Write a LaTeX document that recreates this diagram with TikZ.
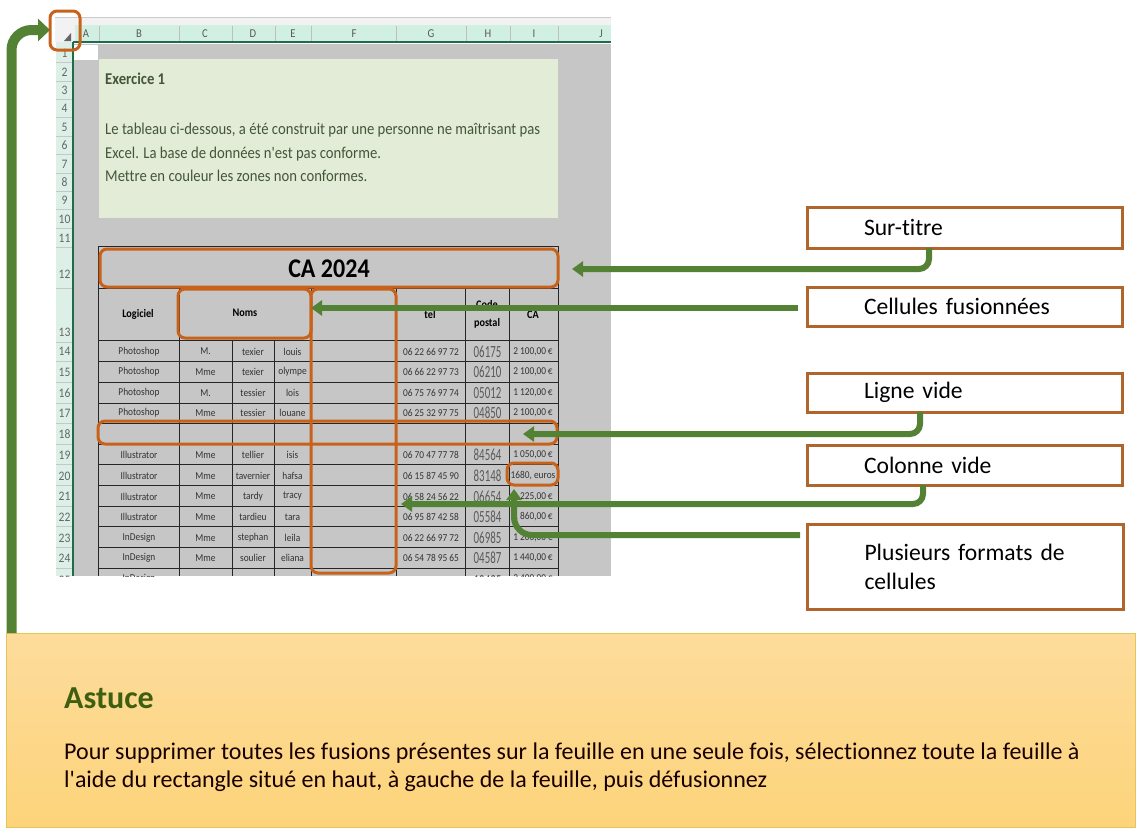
\documentclass[tikz,border=0pt]{standalone}
\usepackage{fontspec}
\newfontfamily\carl[Ligatures=NoCommon]{Carlito}
\newfontfamily\carlnarrow[Ligatures=NoCommon,FakeStretch=0.89]{Carlito}
\newfontfamily\carlzip[Ligatures=NoCommon,FakeStretch=0.64]{Carlito}
\usetikzlibrary{arrows.meta,calc}
\definecolor{arrowgreen}{HTML}{548235}
\definecolor{calloutedge}{HTML}{B0652D}
\definecolor{hiorange}{HTML}{C8621A}
\definecolor{sheetgray}{HTML}{C6C6C6}
\definecolor{headteal}{HTML}{D2EFE3}
\definecolor{rowteal}{HTML}{DCF0E8}
\definecolor{headline}{HTML}{1F6B4B}
\definecolor{notegreen}{HTML}{E3ECD6}
\definecolor{notetext}{HTML}{44563A}
\definecolor{astucegreen}{HTML}{3F5F10}
\definecolor{panelA}{HTML}{FDDC9C}
\definecolor{panelC}{HTML}{FDD47A}
\definecolor{paneledge}{HTML}{E6C45C}
\tikzset{
  x=1pt,y=-1pt,
  callout/.style={draw=calloutedge,line width=3pt,outer sep=0pt,fill=white,minimum width=315pt,anchor=north west,inner sep=0pt,text width=201pt,align=left,font=\carl\fontsize{23.6}{29}\selectfont,text=black},
  hibox/.style={draw=hiorange,line width=3pt,outer sep=0pt,rounded corners=7pt,anchor=north west,inner sep=0pt},
  link/.style={draw=arrowgreen,line width=6pt,rounded corners=10pt,-{Triangle[length=11pt,width=15pt]}},
  biglink/.style={draw=arrowgreen,line width=10pt,rounded corners=20pt,-{Triangle[length=12pt,width=22pt]}},
  cell/.style={font=\carlnarrow\fontsize{10.5}{11}\selectfont,text=black!80,inner sep=0pt},
  bcell/.style={font=\carlnarrow\bfseries\fontsize{11.5}{12}\selectfont,text=black,inner sep=0pt},
  hdr/.style={font=\carlnarrow\fontsize{12}{12}\selectfont,text=black!65,inner sep=0pt},
  rownum/.style={font=\carlnarrow\fontsize{13}{13}\selectfont,text=black!60,inner sep=0pt},
  gridline/.style={draw=black!85,line width=0.9pt},
  zip/.style={font=\carlzip\fontsize{17}{17}\selectfont,text=black!65,inner sep=0pt},
  notetxt/.style={anchor=base west,inner sep=0pt,font=\carlnarrow\fontsize{16.5}{16}\selectfont,text=notetext},
  paneltxt/.style={anchor=base west,inner sep=0pt,font=\carl\fontsize{24}{24}\selectfont,text=black!90!red},
}
\begin{document}
\begin{tikzpicture}
\useasboundingbox (0,0) rectangle (1144,839);
\fill[white] (0,0) rectangle (1144,839);
% sheet
\begin{scope}
\clip (55,17) rectangle (611,576);
\fill[black!5] (55,17) rectangle (611,25);
\draw[black!20,line width=1pt] (55,17.5) -- (611,17.5);
\fill[headteal] (75,25) rectangle (611,42);
\fill[black!5] (55,25) rectangle (75,42);
\fill[rowteal] (56,42) rectangle (73,576);
\fill[sheetgray] (73,44) rectangle (611,576);
\fill[white] (74,45) rectangle (98,60);
\fill[black!60] (71,33) -- (71,41) -- (64,41) -- cycle;
\foreach \xx in {99,179,232,275,311,396,466,510,558}
  \draw[black!25,line width=0.5pt] (\xx,26) -- (\xx,41);
\foreach \yy in {62,81,99,117,136,154,173,191,209,228,247,288,342,361,382,403,423,444,464,485,506,526,547,568}
  \draw[black!22,line width=0.5pt] (56,\yy) -- (72,\yy);
\draw[headline,line width=2pt] (73,42) -- (611,42);
\draw[headline,line width=1.2pt] (73,42) -- (73,576);
\foreach \t/\xx in {A/86,B/139,C/205,D/253,E/293,F/354,G/431,H/488,I/534,J/601}
  \node[hdr] at (\xx,33.5) {\t};
\foreach \n/\yy in {1/53,2/72,3/90,4/108,5/127,6/145,7/164,8/182,9/200,10/219,11/238,12/274,13/332,14/351,15/372,16/393,17/413,18/434,19/455,20/476,21/496,22/517,23/538,24/558,25/580}
  \node[rownum] at (64.5,\yy) {\n};
% note
\fill[notegreen] (99,59) rectangle (558,218);
\node[anchor=base west,inner sep=0pt,font=\carlnarrow\bfseries\fontsize{16.5}{16}\selectfont,text=notetext] at (105,84) {Exercice 1};
\node[notetxt] at (105,134) {Le tableau ci-dessous, a été construit par une personne ne maîtrisant pas};
\node[notetxt] at (105,158) {Excel. La base de données n'est pas conforme.};
\node[notetxt] at (105,181) {Mettre en couleur les zones non conformes.};
% grid
\foreach \yy in {246,288,340,361,382,403,423,444,464,485,506,526,547,568}
  \draw[gridline] (98.5,\yy) -- (558.5,\yy);
\draw[gridline] (98.5,246) -- (98.5,576);
\draw[gridline] (558.5,246) -- (558.5,576);
\foreach \xx in {179,311.5,396,465.5,509.5}
  \draw[gridline] (\xx,288) -- (\xx,576);
\foreach \xx in {232,274.5}
  \draw[gridline] (\xx,340) -- (\xx,576);
\node[inner sep=0pt,font=\carlnarrow\bfseries\fontsize{27}{27}\selectfont,text=black] at (329,268.5) {CA 2024};
\node[bcell] at (138,314) {Logiciel};
\node[bcell] at (245,313) {Noms};
\node[bcell] at (430,315) {tel};
\node[bcell] at (487,305) {Code};
\node[bcell] at (487,323) {postal};
\node[bcell] at (533,315) {CA};
\foreach \yy/\va/\vb/\vc/\vd/\ve/\vf/\vg in {
 351.5/Photoshop/M./texier/louis/06 22 66 97 72/06175/{2 100,00\,€},
 372/Photoshop/Mme/texier/olympe/06 66 22 97 73/06210/{2 100,00\,€},
 393/Photoshop/M./tessier/lois/06 75 76 97 74/05012/{1 120,00\,€},
 413/Photoshop/Mme/tessier/louane/06 25 32 97 75/04850/{2 100,00\,€},
 455/Illustrator/Mme/tellier/isis/06 70 47 77 78/84564/{1 050,00\,€},
 476/Illustrator/Mme/tavernier/hafsa/06 15 87 45 90/83148/{1680, euros},
 496.5/Illustrator/Mme/tardy/tracy/06 58 24 56 22/06654/{1 225,00\,€},
 517/Illustrator/Mme/tardieu/tara/06 95 87 42 58/05584/{1 860,00\,€},
 538/InDesign/Mme/stephan/leila/06 22 66 97 72/06985/{1 200,00\,€},
 558/InDesign/Mme/soulier/eliana/06 54 78 95 65/04587/{1 440,00\,€}}{
  \node[cell] at (139,\yy) {\va};
  \node[cell] at (205.5,\yy) {\vb};
  \node[cell] at (253,\yy) {\vc};
  \node[cell] at (292.5,\yy) {\vd};
  \node[cell] at (431,\yy) {\ve};
  \node[zip] at (487.5,\yy) {\vf};
  \node[cell] at (533,\yy) {\vg};
}
\node[cell] at (139,579) {InDesign};
\node[zip] at (487.5,581) {10495};
\node[cell] at (533,579) {2 400,00\,€};
\end{scope}
% highlights
\node[hibox,minimum width=30pt,minimum height=39pt] (corner) at (50,11) {};
\node[hibox,minimum width=458pt,minimum height=38pt] (titlebox) at (100,249) {};
\node[hibox,minimum width=133pt,minimum height=49pt] (noms) at (178,289) {};
\node[hibox,minimum width=85pt,minimum height=284pt] (colF) at (311,289) {};
\node[hibox,minimum width=459pt,minimum height=23pt] (row18) at (98,421) {};
\node[hibox,minimum width=51pt,minimum height=22pt] (cellI) at (507,463) {};
% callouts
\node[callout,minimum height=41pt] (surtitre) at (807,207) {Sur-titre};
\node[callout,minimum height=39pt] (fusion) at (807,287) {Cellules fusionnées};
\node[callout,minimum height=39pt] (ligne) at (807,373) {Ligne vide};
\node[callout,minimum height=40pt] (colonne) at (807,445) {Colonne vide};
\node[callout,minimum height=85pt,minimum width=316pt] (formats) at (807,524) {\mbox{Plusieurs formats de}\\cellules};
% panel
\node[anchor=north west,inner sep=0pt,outer sep=0pt,minimum width=1129pt,minimum height=194pt,draw=paneledge,line width=0.7pt,top color=panelA,bottom color=panelC] (panel) at (6,633) {};
\node[anchor=base west,inner sep=0pt,font=\carl\bfseries\fontsize{32}{32}\selectfont,text=astucegreen] at (64,708) {Astuce};
\node[paneltxt] at (64,759) {Pour supprimer toutes les fusions présentes sur la feuille en une seule fois, sélectionnez toute la feuille à};
\node[paneltxt] at (64,787) {l'aide du rectangle situé en haut, à gauche de la feuille, puis défusionnez};
% connectors
\coordinate (aTitle) at (572,269);
\coordinate (sFusion) at (798,308);
\coordinate (aFusion) at (311,308);
\coordinate (aLigne) at (523,434);
\coordinate (aCol) at (401,504);
\coordinate (sFormats) at (800,535);
\coordinate (aCell) at (514,489);
\coordinate (aCorner) at (50,30);
\coordinate (sCorner) at (11.5,633);
\draw[link] ($(surtitre.south west)+(122,0)$) |- (aTitle);
\draw[link] (sFusion) -- (aFusion);
\draw[link] ($(ligne.south west)+(113,0)$) |- (aLigne);
\draw[link] ($(colonne.south west)+(116,0)$) |- (aCol);
\draw[link,rounded corners=18pt] (sFormats) -| (aCell);
\draw[biglink] (sCorner) |- (aCorner);
\end{tikzpicture}
\end{document}
